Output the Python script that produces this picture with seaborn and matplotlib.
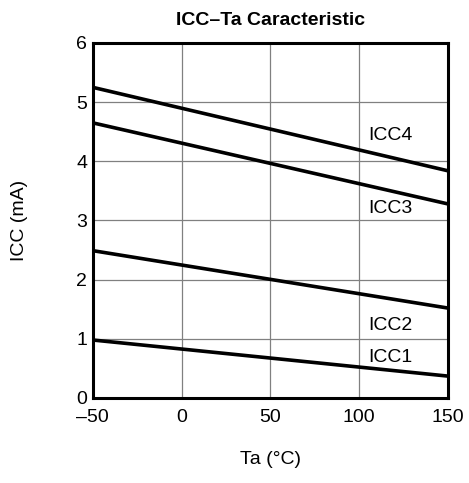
import numpy as np
import pandas as pd
import matplotlib
matplotlib.use('Agg')
import matplotlib.pyplot as plt
import seaborn as sns

# ==========================
# DATA
# ==========================
ta = [-50, 150]
icc1 = [0.98, 0.37]
icc2 = [2.49, 1.52]
icc3 = [4.65, 3.28]
icc4 = [5.25, 3.84]
series_names = ['ICC1', 'ICC2', 'ICC3', 'ICC4']
label_y = [0.69, 1.23, 3.2, 4.44]
x_ticks = [-50, 0, 50, 100, 150]
x_tick_labels = ['\u201350', '0', '50', '100', '150']
y_ticks = [0, 1, 2, 3, 4, 5, 6]

df = pd.DataFrame({
    'Ta': ta * 4,
    'ICC': icc1 + icc2 + icc3 + icc4,
    'series': sum([[n] * len(ta) for n in series_names], []),
})

sns.set_style('white', {'text.color': 'black', 'axes.labelcolor': 'black',
                        'xtick.color': 'black', 'ytick.color': 'black'})
plt.rcParams['font.family'] = ['Liberation Sans', 'DejaVu Sans']

fig = plt.figure(figsize=(4.69, 4.83), dpi=100)
ax = fig.add_axes([0.198, 0.176, 0.757, 0.735])

sns.lineplot(data=df, x='Ta', y='ICC', units='series', estimator=None,
             color='black', linewidth=2.6, ax=ax, legend=False)

for name, yv in zip(series_names, label_y):
    ax.text(105, yv, name, fontsize=14, va='center', ha='left', color='black')

ax.set_xlim(-50, 150)
ax.set_ylim(0, 6)
ax.set_xticks(x_ticks)
ax.set_xticklabels(x_tick_labels)
ax.set_yticks(y_ticks)
ax.grid(True, color='#808080', linewidth=0.9)
ax.tick_params(axis='both', length=0, labelsize=14, labelcolor='black')
ax.tick_params(axis='x', pad=8)
ax.tick_params(axis='y', pad=4)
for sp in ax.spines.values():
    sp.set_linewidth(2.2)
    sp.set_color('black')

ax.set_xlabel('Ta (\u00b0C)', fontsize=14, labelpad=18, color='black')
ax.set_ylabel('ICC (mA)', fontsize=14, labelpad=35, color='black')
ax.set_title('ICC\u2013Ta Caracteristic', fontsize=14, fontweight='bold', pad=13, color='black')

fig.savefig('out.png', dpi=100)
